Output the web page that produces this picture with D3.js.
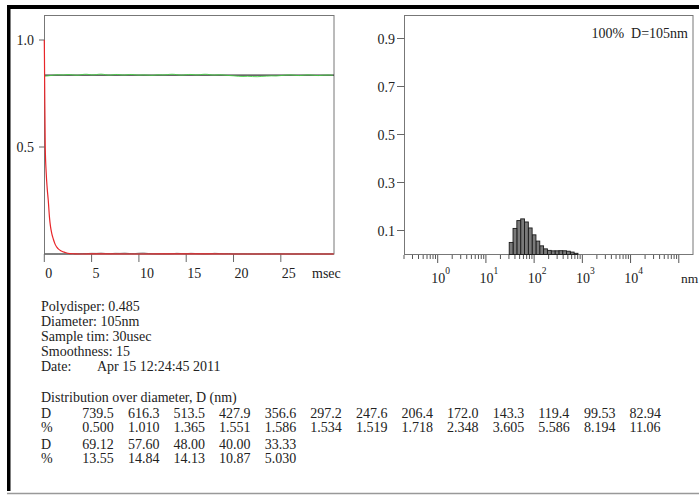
<!DOCTYPE html>
<html>
<meta charset="utf-8">
<style>
body { margin: 0; background: #fff; }
svg text { font-family: "Liberation Serif", "Times New Roman", serif; fill: #222; }
.box { fill: none; stroke: #777; stroke-width: 1; }
</style>
<body>
<svg id="chart" width="699" height="496"></svg>
<script src="https://d3js.org/d3.v7.min.js"></script>
<script>
// correlation function (red), fitted baseline (green), residual (grey)
var corrTime  = [0, 0.02, 0.05, 0.1, 0.2, 0.3, 0.42, 0.55, 0.65, 0.78, 0.95, 1.15, 1.45, 1.8, 2.2, 2.7, 3.2, 4, 6, 10, 15, 20, 25, 30.6];
var corrValue = [1.0, 0.9, 0.72, 0.5, 0.38, 0.31, 0.25, 0.17, 0.13, 0.098, 0.07, 0.045, 0.025, 0.014, 0.007, 0.002, 0.001, 0.0, 0.001, 0.0, 0.001, 0.0, 0.0, 0.0];
var sampleStep = 0.5;
var baseValue = [0.830, 0.833, 0.836, 0.839, 0.835, 0.840, 0.837, 0.834, 0.839, 0.841, 0.836, 0.838, 0.842, 0.837, 0.835, 0.840,
                 0.838, 0.835, 0.840, 0.838, 0.835, 0.838, 0.836, 0.834, 0.839, 0.836, 0.838, 0.841, 0.838, 0.835, 0.838, 0.840,
                 0.836, 0.838, 0.841, 0.838, 0.835, 0.839, 0.836, 0.834, 0.833, 0.830, 0.829, 0.831, 0.829, 0.828, 0.830, 0.831,
                 0.833, 0.831, 0.834, 0.836, 0.838, 0.835, 0.833, 0.836, 0.838, 0.835, 0.833, 0.836, 0.837, 0.835];
var residual  = [0.0, 0.0, 0.0, 0.0, 0.0, 0.0, 0.001, 0.0, 0.003, 0.001, 0.004, 0.002, 0.005, 0.002, 0.001, 0.004,
                 0.002, 0.005, 0.002, 0.001, 0.004, 0.005, 0.002, 0.001, 0.0, 0.001, 0.0, 0.001, 0.004, 0.002, 0.001, 0.004,
                 0.002, 0.001, 0.0, 0.001, 0.004, 0.002, 0.001, 0.003, 0.0, 0.0, 0.001, 0.0, 0.0, 0.0, 0.0, 0.001,
                 0.0, 0.002, 0.001, 0.0, 0.0, 0.0, 0.0, 0.001, 0.0, 0.0, 0.0, 0.0, 0.0, 0.0];
var baseLevel = 0.836;
var timeTicks = [0, 5, 10, 15, 20, 25];
var corrTicks = [0.5, 1.0];

// size distribution
var diam    = [739.5, 616.3, 513.5, 427.9, 356.6, 297.2, 247.6, 206.4, 172.0, 143.3, 119.4, 99.53, 82.94, 69.12, 57.60, 48.00, 40.00, 33.33];
var percent = [0.500, 1.010, 1.365, 1.551, 1.586, 1.534, 1.519, 1.718, 2.348, 3.605, 5.586, 8.194, 11.06, 13.55, 14.84, 14.13, 10.87, 5.030];
var diamLabels = ["739.5","616.3","513.5","427.9","356.6","297.2","247.6","206.4","172.0","143.3","119.4","99.53","82.94","69.12","57.60","48.00","40.00","33.33"];
var pctLabels  = ["0.500","1.010","1.365","1.551","1.586","1.534","1.519","1.718","2.348","3.605","5.586","8.194","11.06","13.55","14.84","14.13","10.87","5.030"];
var distTicks = [0.1, 0.3, 0.5, 0.7, 0.9];
var decades = [0, 1, 2, 3, 4];
var binRatio = 1.2;

var info = [["Polydisper: 0.485"], ["Diameter: 105nm"], ["Sample tim: 30usec"], ["Smoothness: 15"], ["Date:", "Apr 15 12:24:45 2011"]];

var svg = d3.select("#chart");

// page frame
svg.append("rect").attr("x", 7).attr("y", 5).attr("width", 692).attr("height", 4).attr("fill", "#000");
svg.append("rect").attr("x", 7).attr("y", 5).attr("width", 3.5).attr("height", 486).attr("fill", "#000");
svg.append("line").attr("x1", 7).attr("x2", 699).attr("y1", 493.5).attr("y2", 493.5)
    .attr("stroke", "#999").attr("stroke-width", 1.5);

// ---------- left: correlation ----------
var x = d3.scaleLinear().domain([0, 30.6]).range([44.3, 333.8]),
    y = d3.scaleLinear().domain([0, 1]).range([254, 40]);

var left = svg.append("g");
left.append("rect").attr("class", "box").attr("x", 44.5).attr("y", 15.5).attr("width", 289.5).attr("height", 238.5);

left.selectAll(".ytick").data(corrTicks).enter().append("line")
    .attr("x1", 39).attr("x2", 44.5).attr("y1", function(d) { return y(d); }).attr("y2", function(d) { return y(d); })
    .attr("stroke", "#666");
left.selectAll(".ylab").data(corrTicks).enter().append("text")
    .attr("x", 34).attr("y", function(d) { return y(d) + 5; })
    .attr("text-anchor", "end").style("font-size", "14px")
    .text(function(d) { return d.toFixed(1); });

left.selectAll(".xtick").data(timeTicks).enter().append("line")
    .attr("x1", function(d) { return x(d); }).attr("x2", function(d) { return x(d); })
    .attr("y1", 254).attr("y2", 262).attr("stroke", "#666");
left.selectAll(".xlab").data(timeTicks).enter().append("text")
    .attr("x", function(d) { return x(d) + 1; }).attr("y", 277.5)
    .style("font-size", "14px")
    .text(function(d) { return d; });
left.append("text").attr("x", 312).attr("y", 277.5).style("font-size", "14px").text("msec");

var line = d3.line().x(function(d) { return x(d[0]); }).y(function(d) { return y(d[1]); });

left.append("line").attr("x1", x(0)).attr("x2", 334).attr("y1", y(baseLevel)).attr("y2", y(baseLevel))
    .attr("stroke", "#333").attr("stroke-width", 1.2);
left.append("path")
    .datum(baseValue.map(function(v, i) { return [i * sampleStep, v]; }))
    .attr("d", line.curve(d3.curveBasis)).attr("fill", "none").attr("stroke", "#3fd23f").attr("stroke-width", 1)
    .attr("opacity", 0.85);
left.append("path")
    .datum(residual.map(function(v, i) { return [i * sampleStep, v]; }))
    .attr("d", line.curve(d3.curveBasis)).attr("fill", "none").attr("stroke", "#777").attr("stroke-width", 1);
left.append("line").attr("x1", x(0)).attr("x2", 334).attr("y1", 254).attr("y2", 254).attr("stroke", "#666");
left.append("path")
    .datum(corrTime.map(function(t, i) { return [t, corrValue[i]]; }))
    .attr("d", line.curve(d3.curveMonotoneX)).attr("fill", "none").attr("stroke", "#e8262a").attr("stroke-width", 1.2);

// ---------- right: size distribution ----------
var xd = d3.scaleLog().domain([0.2, 2e5]).range([404, 693.3]),
    yd = d3.scaleLinear().domain([0, 1]).range([254.5, 14.5]);

var right = svg.append("g");
right.append("rect").attr("class", "box").attr("x", 404.5).attr("y", 15.5).attr("width", 288.5).attr("height", 239);

right.selectAll(".ytick").data(distTicks).enter().append("line")
    .attr("x1", 397).attr("x2", 404.5).attr("y1", function(d) { return yd(d); }).attr("y2", function(d) { return yd(d); })
    .attr("stroke", "#666");
right.selectAll(".ylab").data(distTicks).enter().append("text")
    .attr("x", 395).attr("y", function(d) { return yd(d) + 5; })
    .attr("text-anchor", "end").style("font-size", "14px")
    .text(function(d) { return d.toFixed(1); });

var minor = xd.ticks().filter(function(d) { return d <= 1e5; });
right.selectAll(".xtick").data(minor).enter().append("line")
    .attr("x1", function(d) { return xd(d); }).attr("x2", function(d) { return xd(d); })
    .attr("y1", 255).attr("y2", function(d) {
        var l = Math.log10(d);
        return Math.abs(l - Math.round(l)) < 1e-9 ? 263 : 259;
    })
    .attr("stroke", "#555");

var xl = right.selectAll(".xlab").data(decades).enter().append("text")
    .attr("x", function(d) { return xd(Math.pow(10, d)) + 3; }).attr("y", 283)
    .attr("text-anchor", "middle").style("font-size", "14px");
xl.append("tspan").text("10");
xl.append("tspan").attr("dy", -9).style("font-size", "9.5px").text(function(d) { return d; });
right.append("text").attr("x", 681).attr("y", 283).style("font-size", "13.5px").text("nm");

var sq = Math.sqrt(binRatio);
right.selectAll(".bar").data(diam).enter().append("rect")
    .attr("x", function(d) { return xd(d / sq); })
    .attr("width", function(d) { return xd(d * sq) - xd(d / sq); })
    .attr("y", function(d, i) { return yd(percent[i] / 100); })
    .attr("height", function(d, i) { return yd(0) - yd(percent[i] / 100); })
    .attr("fill", "#7a7a7a").attr("stroke", "#1a1a1a").attr("stroke-width", 0.9);

right.append("text").attr("x", 688).attr("y", 38).attr("text-anchor", "end").style("font-size", "14px")
    .attr("xml:space", "preserve").text("100%  D=105nm");

// ---------- text block ----------
var tb = svg.append("g").style("font-size", "14px");
info.forEach(function(row, i) {
    tb.append("text").attr("x", 41).attr("y", 311 + i * 15).text(row[0]);
    if (row[1]) tb.append("text").attr("x", 97).attr("y", 311 + i * 15).text(row[1]);
});
tb.append("text").attr("x", 41).attr("y", 402).text("Distribution over diameter, D (nm)");

var rows = [[0, 13, 418, 431.5], [13, 18, 449, 462.5]];
rows.forEach(function(r) {
    tb.append("text").attr("x", 41).attr("y", r[2]).text("D");
    tb.append("text").attr("x", 41).attr("y", r[3]).text("%");
    for (var k = r[0]; k < r[1]; k++) {
        var cx = 82.3 + (k - r[0]) * 45.6;
        tb.append("text").attr("x", cx).attr("y", r[2]).text(diamLabels[k]);
        tb.append("text").attr("x", cx).attr("y", r[3]).text(pctLabels[k]);
    }
});
</script>
</body>
</html>
